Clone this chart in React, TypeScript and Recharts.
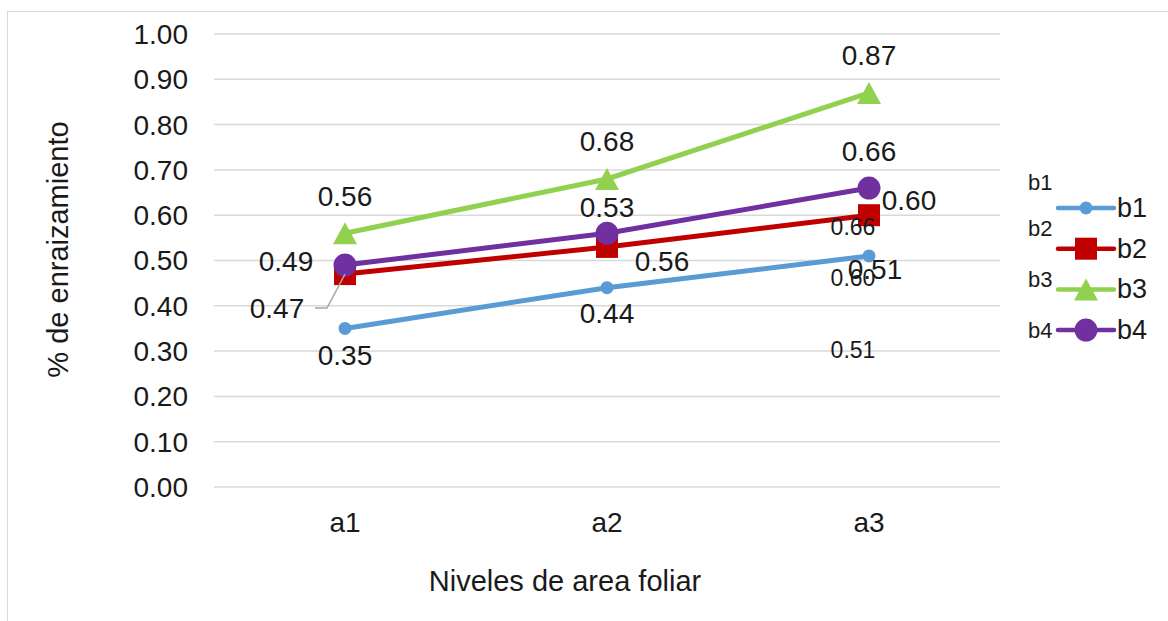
import React from 'react';
import { LineChart, Line, XAxis, YAxis, CartesianGrid, LabelList } from 'recharts';

const categories = ['a1', 'a2', 'a3'];
const b1Values = [0.35, 0.44, 0.51];
const b2Values = [0.47, 0.53, 0.6];
const b3Values = [0.56, 0.68, 0.87];
const b4Values = [0.49, 0.56, 0.66];
const yTicks = [0, 0.1, 0.2, 0.3, 0.4, 0.5, 0.6, 0.7, 0.8, 0.9, 1.0];
const seriesNames = ['b1', 'b2', 'b3', 'b4'];

const data = categories.map((name, i) => ({
  name,
  b1: b1Values[i],
  b2: b2Values[i],
  b3: b3Values[i],
  b4: b4Values[i],
}));

const FONT = '"Liberation Sans", Arial, sans-serif';
const TEXT = '#1a1a1a';
const colors: Record<string, string> = {
  b1: '#5B9BD5',
  b2: '#C00000',
  b3: '#92D050',
  b4: '#7030A0',
};

// where Excel left each data label, relative to its point
const labelOffsets: Record<string, number[][]> = {
  b1: [[0, 27], [0, 26], [6, 14]],
  b2: [[-68, 34], [0, -39], [40, -15]],
  b3: [[0, -37], [0, -37], [0, -37]],
  b4: [[-59, -4], [55, 28], [0, -37]],
};
// leftover small labels sitting under the a3 points
const strayOffsets: Record<string, number[]> = {
  b1: [-16, 94],
  b2: [-16, 63],
  b4: [-16, 39],
};

const marker = (key: string, cx: number, cy: number, color: string) => {
  if (key === 'b1') return <circle cx={cx} cy={cy} r={6.5} fill={color} />;
  if (key === 'b2') return <rect x={cx - 11} y={cy - 11} width={22} height={22} fill={color} />;
  if (key === 'b3')
    return <polygon points={`${cx},${cy - 11} ${cx - 12},${cy + 11} ${cx + 12},${cy + 11}`} fill={color} />;
  return <circle cx={cx} cy={cy} r={11.5} fill={color} />;
};

const makeDot = (key: string) => (props: any) => {
  const { cx, cy, index } = props;
  if (cx == null || cy == null) return <g key={`${key}-${index}`} />;
  return <g key={`${key}-${index}`}>{marker(key, cx, cy, colors[key])}</g>;
};

const pointOf = (props: any) => {
  const vb = props.viewBox || {};
  const x = props.x ?? vb.x;
  const y = props.y ?? vb.y;
  return { x: Number(x), y: Number(y) };
};

const makeLabel = (key: string) => (props: any) => {
  const { value, index } = props;
  const { x, y } = pointOf(props);
  const [dx, dy] = labelOffsets[key][index];
  return (
    <g>
      {key === 'b2' && index === 0 && (
        <polyline
          points={`${x - 30},${y + 34} ${x - 18},${y + 34} ${x},${y}`}
          fill="none"
          stroke="#a6a6a6"
          strokeWidth={1.5}
        />
      )}
      <text x={x + dx} y={y + dy} textAnchor="middle" dominantBaseline="central" fontSize={28} fill={TEXT} fontFamily={FONT}>
        {Number(value).toFixed(2)}
      </text>
    </g>
  );
};

const makeStray = (key: string) => (props: any) => {
  const { value, index } = props;
  if (index !== 2) return null;
  const { x, y } = pointOf(props);
  const [dx, dy] = strayOffsets[key];
  return (
    <text x={x + dx} y={y + dy} textAnchor="middle" dominantBaseline="central" fontSize={23} fill={TEXT} fontFamily={FONT}>
      {Number(value).toFixed(2)}
    </text>
  );
};

const ChartLegend: React.FC = () => (
  <svg width={168} height={240} style={{ position: 'absolute', left: 1000, top: 150 }}>
    {seriesNames.map((name, i) => {
      const rowY = 58 + i * 40.7;
      const smallY = [32, 78, 129, 180][i];
      return (
        <g key={name}>
          <text x={28} y={smallY} dominantBaseline="central" fontSize={22} fill={TEXT} fontFamily={FONT}>
            {name}
          </text>
          <line x1={58} y1={rowY} x2={114} y2={rowY} stroke={colors[name]} strokeWidth={4.5} strokeLinecap="round" />
          {marker(name, 86, rowY, colors[name])}
          <text x={117} y={rowY} dominantBaseline="central" fontSize={27} fill={TEXT} fontFamily={FONT}>
            {name}
          </text>
        </g>
      );
    })}
  </svg>
);

const App: React.FC = () => {
  return (
    <div style={{ position: 'absolute', left: 0, top: 0, width: 1168, height: 621, background: '#fff', fontFamily: FONT, overflow: 'hidden' }}>
      <div
        style={{
          position: 'absolute',
          left: 7,
          top: 11,
          width: 1200,
          height: 700,
          borderTop: '1.5px solid #d9d9d9',
          borderLeft: '1.5px solid #d9d9d9',
        }}
      />
      <div style={{ position: 'absolute', left: 0, top: 0 }}>
        <LineChart width={1168} height={621} data={data} margin={{ top: 34, right: 168, left: 0, bottom: 0 }}>
          <CartesianGrid vertical={false} stroke="#d9d9d9" strokeWidth={1.5} />
          <XAxis
            dataKey="name"
            height={134}
            axisLine={false}
            tickLine={false}
            tickSize={0}
            tickMargin={25}
            padding={{ left: 131, right: 131 }}
            tick={{ fontSize: 28, fill: TEXT }}
            label={{
              content: (p: any) => {
                const vb = p.viewBox;
                return (
                  <text x={vb.x + vb.width / 2 - 42} y={591} textAnchor="middle" fontSize={29} fill={TEXT} fontFamily={FONT}>
                    Niveles de area foliar
                  </text>
                );
              },
            }}
          />
          <YAxis
            width={214}
            domain={[0, 1]}
            ticks={yTicks}
            interval={0}
            tickFormatter={(v: number) => v.toFixed(2)}
            axisLine={false}
            tickLine={false}
            tickSize={0}
            tickMargin={26}
            tick={{ fontSize: 28, fill: TEXT }}
            label={{
              content: (p: any) => {
                const vb = p.viewBox;
                const cy = vb.y + vb.height / 2 - 11;
                return (
                  <text
                    x={58}
                    y={cy}
                    transform={`rotate(-90 58 ${cy})`}
                    textAnchor="middle"
                    dominantBaseline="central"
                    fontSize={29}
                    fill={TEXT}
                    fontFamily={FONT}
                  >
                    % de enraizamiento
                  </text>
                );
              },
            }}
          />
          {seriesNames.map((key) => (
            <Line
              key={key}
              type="linear"
              dataKey={key}
              stroke={colors[key]}
              strokeWidth={5}
              dot={makeDot(key)}
              activeDot={false}
              isAnimationActive={false}
            >
              <LabelList dataKey={key} content={makeLabel(key)} />
              {strayOffsets[key] && <LabelList dataKey={key} content={makeStray(key)} />}
            </Line>
          ))}
        </LineChart>
      </div>
      <ChartLegend />
    </div>
  );
};

export default App;
